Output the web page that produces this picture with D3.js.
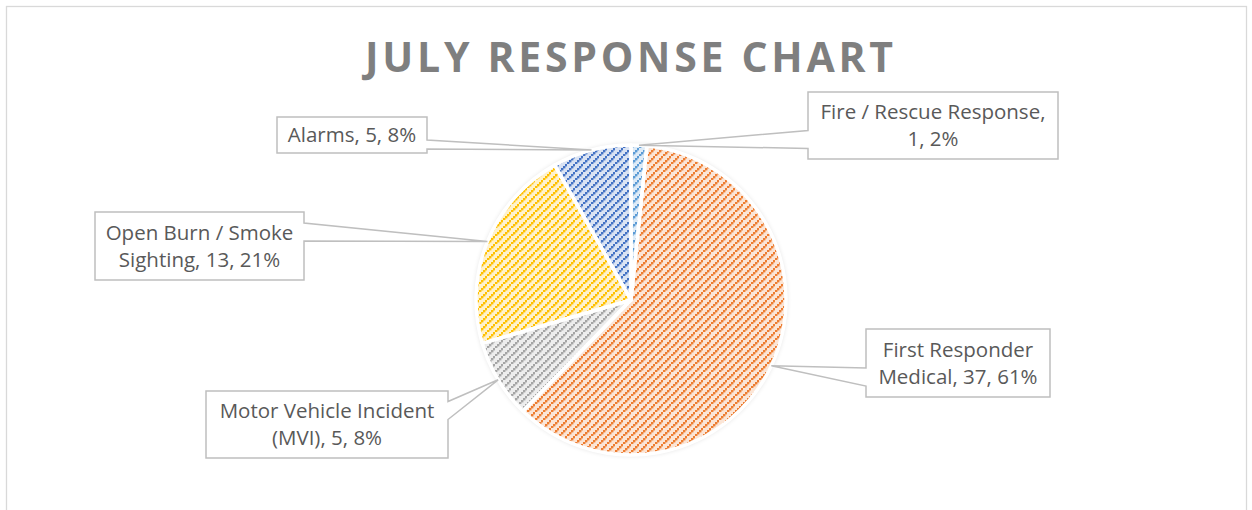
<!DOCTYPE html>
<html>
<head>
<meta charset="utf-8">
<script src="https://cdn.jsdelivr.net/npm/d3@7"></script>
<style>
  body { margin: 0; background: #fff; }
  svg { display: block; }
</style>
</head>
<body>
<div id="chart"></div>
<script>
// data
const categories = ['Fire / Rescue Response', 'First Responder Medical', 'Motor Vehicle Incident (MVI)', 'Open Burn / Smoke Sighting', 'Alarms']
const counts = [1, 37, 5, 13, 5]
const firstLineWords = [4, 2, 3, 4, 3] // where the label text wraps
const title = 'JULY RESPONSE CHART'

// styles
const colors = ['#5b9bd5', '#ed7d31', '#a5a5a5', '#ffc000', '#4472c4']
const tints = ['#deebf7', '#fbe5d6', '#ededed', '#fff2cc', '#dae3f3']
// label boxes [x, y, w, h, side of pointer]
const boxes = [
  [808, 92, 250, 67, 'left'],
  [866, 329, 184, 68, 'left'],
  [206, 391, 242, 67, 'right'],
  [95, 212, 209, 68, 'right'],
  [277, 117, 150, 36, 'right']
]

const W = 1252, H = 510
const cx = 631, cy = 300, R = 155

const svg = d3.select('#chart').append('svg')
  .attr('width', W)
  .attr('height', H)

const defs = svg.append('defs')

// chart area border
svg.append('rect')
  .attr('x', 6.5).attr('y', 6.5)
  .attr('width', 1240).attr('height', 520)
  .attr('fill', 'none')
  .attr('stroke', '#d9d9d9')
  .attr('stroke-width', 1.3)

// title
svg.append('text')
  .attr('x', 365)
  .attr('y', 72)
  .attr('textLength', 528)
  .attr('lengthAdjust', 'spacing')
  .attr('font-family', 'Open Sans')
  .attr('font-weight', 700)
  .attr('font-size', 41)
  .attr('fill', '#7f7f7f')
  .text(title)

// hatch patterns (dotted upward diagonal)
colors.forEach((c, i) => {
  const p = defs.append('pattern')
    .attr('id', 'hatch' + i)
    .attr('patternUnits', 'userSpaceOnUse')
    .attr('width', 8).attr('height', 8)
  p.append('rect').attr('width', 8).attr('height', 8).attr('fill', tints[i])
  ;[[0, 6], [2, 4], [4, 2], [6, 0]].forEach(([x, y]) => {
    p.append('rect').attr('x', x).attr('y', y)
      .attr('width', 2.4).attr('height', 2.4).attr('fill', c)
  })
})

defs.append('filter').attr('id', 'blur')
  .attr('x', '-20%').attr('y', '-20%').attr('width', '140%').attr('height', '140%')
  .append('feGaussianBlur').attr('stdDeviation', 3)
defs.append('filter').attr('id', 'soft')
  .attr('x', '-20%').attr('y', '-20%').attr('width', '140%').attr('height', '140%')
  .append('feGaussianBlur').attr('stdDeviation', 2.5)

const total = d3.sum(counts)
const pie = d3.pie().sort(null).value(d => d)
const arcs = pie(counts)
const arc = d3.arc().innerRadius(0).outerRadius(R)

const g = svg.append('g').attr('transform', `translate(${cx},${cy})`)

// faint halo round the pie
g.append('circle')
  .attr('r', R + 1)
  .attr('fill', '#000')
  .attr('opacity', 0.12)
  .attr('filter', 'url(#soft)')

arcs.forEach((a, i) => {
  defs.append('clipPath').attr('id', 'clip' + i)
    .append('path').attr('d', arc(a)).attr('transform', `translate(${cx},${cy})`)
})

const slices = g.selectAll('.slice')
  .data(arcs)
  .enter().append('g')
  .attr('class', 'slice')

slices.append('path')
  .attr('d', arc)
  .attr('fill', (d, i) => `url(#hatch${i})`)

// inner shading along slice edges
svg.append('g').selectAll('path')
  .data(arcs)
  .enter().append('path')
  .attr('transform', `translate(${cx},${cy})`)
  .attr('d', arc)
  .attr('clip-path', (d, i) => `url(#clip${i})`)
  .attr('fill', 'none')
  .attr('stroke', (d, i) => colors[i])
  .attr('stroke-width', 10)
  .attr('stroke-opacity', 0.35)
  .attr('filter', 'url(#blur)')

// white separators
svg.append('g').attr('transform', `translate(${cx},${cy})`)
  .selectAll('path')
  .data(arcs)
  .enter().append('path')
  .attr('d', arc)
  .attr('fill', 'none')
  .attr('stroke', '#fff')
  .attr('stroke-width', 3.5)
  .attr('stroke-linejoin', 'round')

// callout labels
const labels = svg.append('g')
arcs.forEach((a, i) => {
  const [bx, by, bw, bh, side] = boxes[i]
  const mid = (a.startAngle + a.endAngle) / 2
  const tx = cx + R * Math.sin(mid)
  const ty = cy - R * Math.cos(mid)
  const mcy = by + bh / 2
  const dir = ty > mcy ? 1 : -1
  let y1 = mcy + dir * 5
  let y2 = mcy + dir * Math.min(23, bh / 2 - 4)
  if (y1 > y2) [y1, y2] = [y2, y1]
  const path = d3.path()
  if (side === 'left') {
    path.moveTo(bx, by)
    path.lineTo(bx + bw, by)
    path.lineTo(bx + bw, by + bh)
    path.lineTo(bx, by + bh)
    path.lineTo(bx, y2)
    path.lineTo(tx, ty)
    path.lineTo(bx, y1)
    path.closePath()
  } else {
    const rx = bx + bw
    path.moveTo(bx, by)
    path.lineTo(rx, by)
    path.lineTo(rx, y1)
    path.lineTo(tx, ty)
    path.lineTo(rx, y2)
    path.lineTo(rx, by + bh)
    path.lineTo(bx, by + bh)
    path.closePath()
  }
  labels.append('path')
    .attr('d', path.toString())
    .attr('fill', '#fff')
    .attr('stroke', '#bfbfbf')
    .attr('stroke-width', 1.5)
    .attr('stroke-linejoin', 'miter')

  const pct = Math.round(counts[i] / total * 100)
  const words = `${categories[i]}, ${counts[i]}, ${pct}%`.split(' ')
  const lines = [words.slice(0, firstLineWords[i]).join(' '), words.slice(firstLineWords[i]).join(' ')]
    .filter(l => l.length)
  const lh = 27
  const t = labels.append('text')
    .attr('font-family', 'Open Sans')
    .attr('font-size', 20.5)
    .attr('fill', '#595959')
    .attr('text-anchor', 'middle')
  lines.forEach((l, k) => {
    t.append('tspan')
      .attr('x', bx + bw / 2)
      .attr('y', mcy + (k - (lines.length - 1) / 2) * lh + 7)
      .text(l)
  })
})
</script>
</body>
</html>
